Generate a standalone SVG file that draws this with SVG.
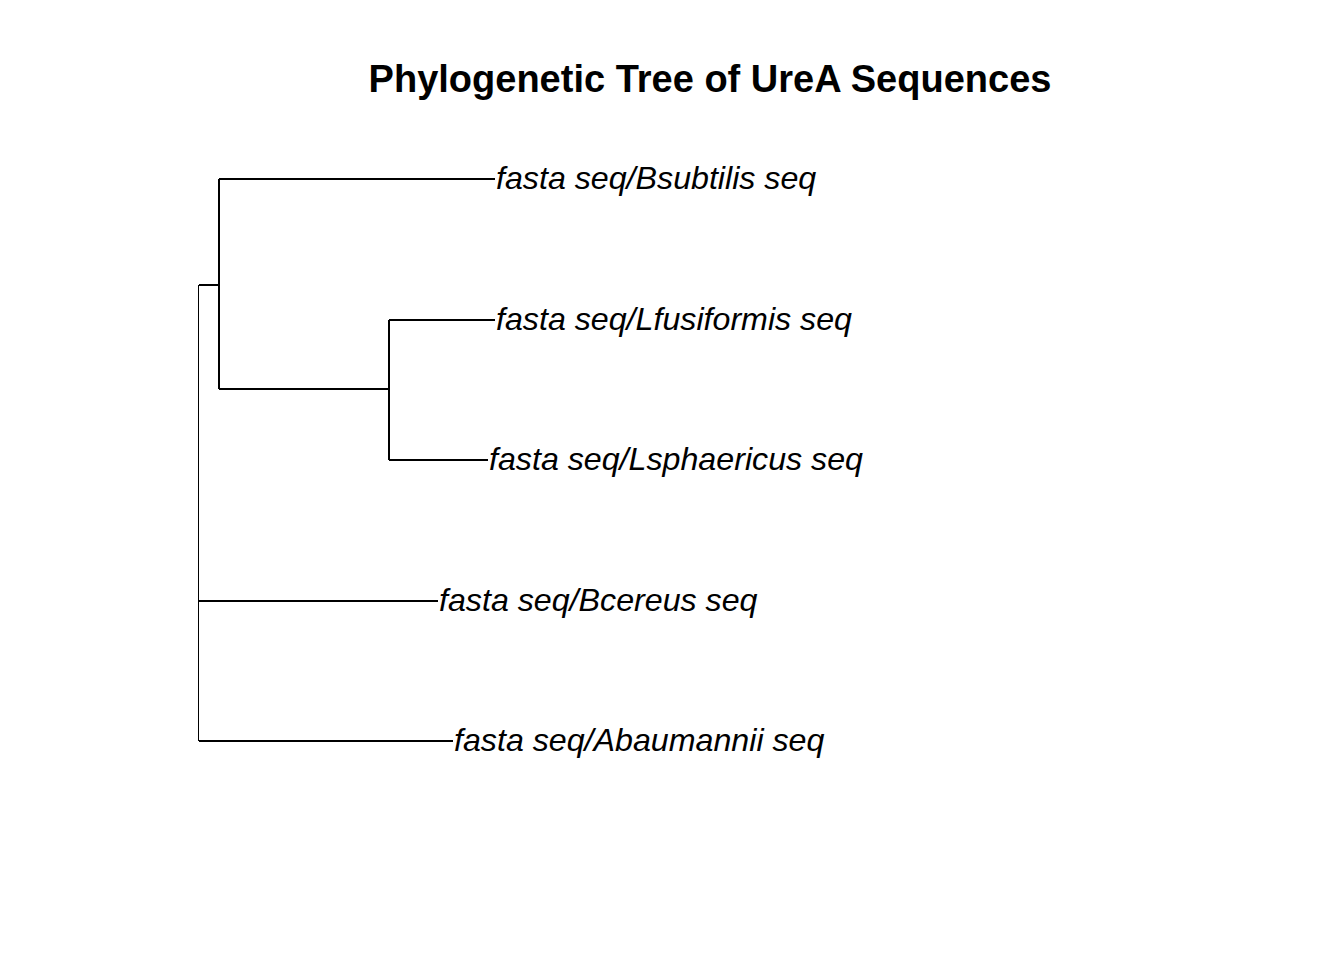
<svg xmlns="http://www.w3.org/2000/svg" width="1344" height="960" viewBox="0 0 1344 960">
<style>
.edge{stroke:#000;stroke-width:1.6;fill:none;stroke-linecap:butt;stroke-linejoin:miter;shape-rendering:crispEdges}
.lab{font-family:"Liberation Sans",Arial,sans-serif;font-style:italic;font-size:32.2px;fill:#000}
.title{font-family:"Liberation Sans",Arial,sans-serif;font-weight:bold;font-size:38px;fill:#000}
</style>
<rect width="1344" height="960" fill="#fff"/>
<text class="title" x="710" y="92" text-anchor="middle">Phylogenetic Tree of UreA Sequences</text>
<g id="connectors">
<path class="edge" d="M198.5,285 V741"/>
<path class="edge" d="M198.5,285 H219"/>
<path class="edge" d="M219,179 V389"/>
<path class="edge" d="M219,179 H495"/>
<path class="edge" d="M219,389 H389"/>
<path class="edge" d="M389,320 V460"/>
<path class="edge" d="M389,320 H495"/>
<path class="edge" d="M389,460 H488"/>
<path class="edge" d="M198.5,601 H438"/>
<path class="edge" d="M198.5,741 H453"/>
</g>
<g id="tip-bsubtilis"><text class="lab" x="496" y="189">fasta seq/Bsubtilis seq</text></g>
<g id="tip-lfusiformis"><text class="lab" x="496" y="330">fasta seq/Lfusiformis seq</text></g>
<g id="tip-lsphaericus"><text class="lab" x="489" y="470">fasta seq/Lsphaericus seq</text></g>
<g id="tip-bcereus"><text class="lab" x="439" y="611">fasta seq/Bcereus seq</text></g>
<g id="tip-abaumannii"><text class="lab" x="454" y="751">fasta seq/Abaumannii seq</text></g>
</svg>
